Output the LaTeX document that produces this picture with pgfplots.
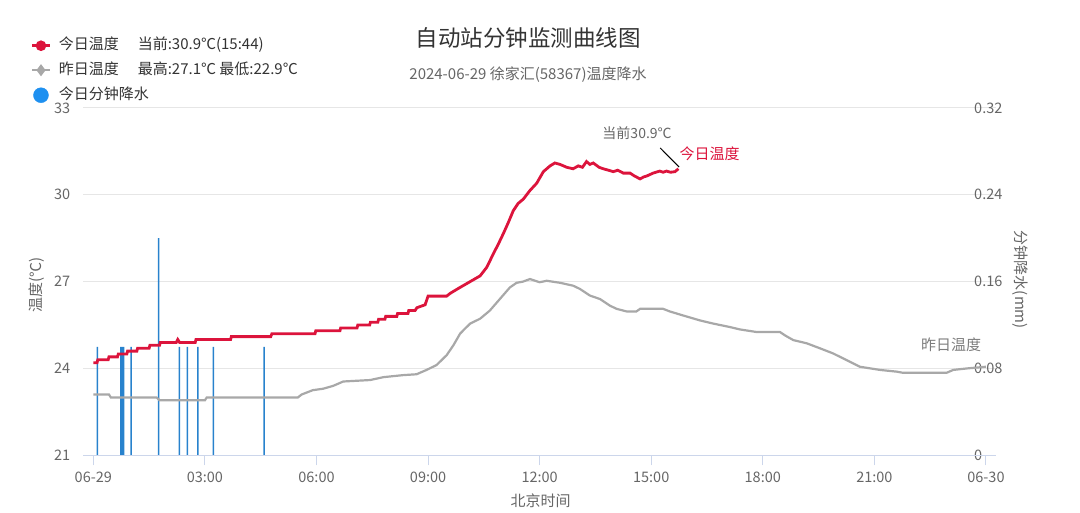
\documentclass[border=0pt]{standalone}
\usepackage{pgfplots}
\pgfplotsset{compat=1.18}
\usepackage{fontspec}
\setmainfont{Noto Sans CJK SC}
\definecolor{redc}{RGB}{220,20,60}
\definecolor{greyc}{RGB}{168,168,168}
\definecolor{rainc}{RGB}{40,130,205}
\definecolor{legblue}{RGB}{30,144,240}
\definecolor{gridc}{RGB}{230,230,230}
\definecolor{axisc}{RGB}{204,214,235}
\definecolor{labc}{RGB}{102,102,102}
\definecolor{titc}{RGB}{51,51,51}
\begin{document}
\begin{tikzpicture}
\useasboundingbox (0,0) rectangle (1080pt,513pt);
\node[text=titc, font=\fontsize{22.5}{26}\selectfont] at (528pt,475pt) {自动站分钟监测曲线图};
\node[text=labc, font=\fontsize{15}{18}\selectfont] at (528pt,438pt) {2024-06-29 徐家汇(58367)温度降水};
% rain axis (right)
\begin{axis}[
  at={(83.3pt,57.7pt)}, anchor=south west, scale only axis,
  width=912.7pt, height=347.3pt,
  xmin=-0.27, xmax=24.27, ymin=0, ymax=0.32,
  axis x line=none, axis y line*=right, y axis line style={draw=none},
  ytick={0,0.08,0.16,0.24,0.32}, yticklabels={0,0.08,0.16,0.24,0.32},
  ytick style={draw=none},
  ymajorgrids, grid style={gridc, line width=1pt},
  yticklabel style={anchor=west, inner sep=0pt, xshift=-22pt, font=\fontsize{14.5}{17}\selectfont, text=labc},
  every axis y label/.style={at={(axis description cs:1.0263,0.505)}, anchor=center, rotate=-90, font=\fontsize{15}{18}\selectfont, text=labc},
  ylabel={分钟降水(mm)},
]
\addplot[ybar, bar width=1.5pt, fill=rainc, draw=none, bar shift=0pt] coordinates {
(0.107,0.1) (0.737,0.1) (0.78,0.1) (0.817,0.1) (1.013,0.1) (1.758,0.2)
(2.31,0.1) (2.53,0.1) (2.81,0.1) (3.23,0.1) (4.59,0.1)
};
\end{axis}
% temperature axis (left)
\begin{axis}[
  at={(83.3pt,57.7pt)}, anchor=south west, scale only axis,
  width=912.7pt, height=347.3pt,
  xmin=-0.27, xmax=24.27, ymin=21, ymax=33,
  clip=false,
  axis x line*=bottom, axis y line*=left,
  x axis line style={axisc, line width=1pt, -}, y axis line style={draw=none},
  xtick={0,3,...,24}, xticklabels={06-29,03:00,06:00,09:00,12:00,15:00,18:00,21:00,06-30},
  tick align=outside, major tick length=10pt,
  x tick style={axisc, line width=1pt},
  ytick={21,24,27,30,33}, y tick style={draw=none},
  xticklabel style={anchor=north, inner sep=0pt, yshift=-6pt, font=\fontsize{14.5}{17}\selectfont, text=labc},
  yticklabel style={anchor=east, inner sep=0pt, xshift=-3pt, font=\fontsize{14.5}{17}\selectfont, text=labc},
  /pgf/number format/assume math mode=true,
  every axis y label/.style={at={(axis description cs:-0.0507,0.49)}, anchor=center, rotate=90, font=\fontsize{15}{18}\selectfont, text=labc},
  ylabel={温度(℃)},
  every axis x label/.style={at={(axis description cs:0.501,0)}, anchor=center, yshift=-45.5pt, font=\fontsize{15}{18}\selectfont, text=labc},
  xlabel={北京时间},
  legend style={draw=none, fill=none, inner sep=0pt, at={(axis description cs:-0.0573,1.2)}, anchor=north west,
     nodes={inner sep=0pt, anchor=west, text height=11pt, text depth=3pt, font=\fontsize{15}{18}\selectfont, text=titc},
     row sep=10.5pt, column sep=8pt},
  legend cell align=left,
]
\addlegendimage{redc, line width=2.5pt, mark=*, mark size=4pt}
\addlegendentry{今日温度\hspace{19pt}当前:30.9℃(15:44)}
\addlegendimage{greyc, line width=2.5pt, mark=diamond*, mark size=4pt}
\addlegendentry{昨日温度\hspace{19pt}最高:27.1℃ 最低:22.9℃}
\addlegendimage{only marks, mark=*, mark size=7.5pt, legblue}
\addlegendentry{今日分钟降水}
\addplot[greyc, line width=2.2pt, forget plot] coordinates {
(0,23.1) (0.42,23.1) (0.47,23.0) (1.7,23.0) (1.78,22.9) (3.0,22.9) (3.05,23.0)
(5.5,23.0) (5.6,23.1) (5.9,23.25) (6.18,23.3) (6.45,23.4) (6.72,23.55) (7.44,23.6)
(7.8,23.7) (8.33,23.77) (8.69,23.8) (8.96,23.95) (9.23,24.12) (9.5,24.46) (9.68,24.8)
(9.86,25.2) (9.95,25.32) (10.13,25.55) (10.4,25.72) (10.66,26.0) (10.93,26.4) (11.2,26.8)
(11.38,26.96) (11.55,27.0) (11.74,27.09) (12.0,26.98) (12.19,27.03) (12.55,26.96) (12.9,26.86)
(13.08,26.75) (13.35,26.52) (13.62,26.4) (13.89,26.17) (14.07,26.06) (14.34,25.97) (14.6,25.97)
(14.7,26.06) (15.32,26.06) (15.5,25.97) (15.86,25.83) (16.31,25.66) (16.67,25.55) (17.12,25.43)
(17.38,25.35) (17.83,25.26) (18.46,25.26) (18.6,25.14) (18.82,24.98) (19.18,24.87) (19.53,24.7)
(19.89,24.52) (20.25,24.29) (20.61,24.06) (21.15,23.95) (21.6,23.89) (21.77,23.85) (22.94,23.85)
(23.12,23.95) (23.48,24.0) (24,24.06)
};
\addplot[redc, line width=2.8pt, forget plot] coordinates {
(0,24.2) (0.1,24.2) (0.12,24.3) (0.4,24.3) (0.42,24.4) (0.65,24.4) (0.67,24.5) (0.9,24.5)
(0.92,24.6) (1.17,24.6) (1.19,24.7) (1.5,24.7) (1.52,24.8) (1.78,24.8) (1.8,24.9) (2.23,24.9)
(2.27,25.0) (2.32,24.9) (2.74,24.9) (2.76,25.0) (3.69,25.0) (3.71,25.1) (4.77,25.1) (4.8,25.2)
(5.96,25.2) (5.98,25.3) (6.63,25.3) (6.65,25.4) (7.09,25.4) (7.11,25.5) (7.43,25.5) (7.45,25.6)
(7.65,25.6) (7.67,25.7) (7.84,25.7) (7.86,25.8) (8.16,25.8) (8.18,25.9) (8.46,25.9) (8.48,26.0)
(8.65,26.0) (8.7,26.1) (8.92,26.2) (9.0,26.5) (9.5,26.5) (9.6,26.6) (9.86,26.8) (10.13,27.0)
(10.4,27.2) (10.58,27.5) (10.75,27.95) (10.89,28.3) (11.02,28.65) (11.16,29.05) (11.29,29.45)
(11.42,29.7) (11.56,29.85) (11.74,30.15) (11.92,30.4) (12.1,30.8) (12.28,31.0) (12.41,31.1)
(12.55,31.05) (12.73,30.95) (12.9,30.9) (13.04,31.0) (13.15,30.95) (13.26,31.15) (13.35,31.05)
(13.44,31.1) (13.6,30.95) (13.71,30.9) (13.85,30.85) (13.98,30.8) (14.1,30.85) (14.25,30.75)
(14.43,30.75) (14.55,30.65) (14.7,30.55) (14.8,30.62) (14.88,30.65) (15.05,30.75) (15.23,30.82)
(15.32,30.78) (15.41,30.82) (15.52,30.78) (15.64,30.8) (15.73,30.9)
};
\node[text=labc, font=\fontsize{14}{16}\selectfont] at (axis cs:14.62,32.13) {当前30.9℃};
\draw[black, line width=1pt] (axis cs:15.24,31.62) -- (axis cs:15.75,30.96);
\node[text=redc, font=\fontsize{15}{18}\selectfont] at (axis cs:16.57,31.41) {今日温度};
\node[text=labc!85, font=\fontsize{15}{18}\selectfont] at (axis cs:23.06,24.81) {昨日温度};
\end{axis}
\end{tikzpicture}
\end{document}
